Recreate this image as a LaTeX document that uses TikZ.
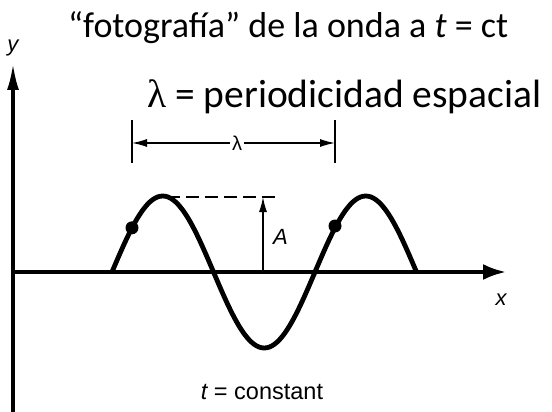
\documentclass[tikz,border=0pt]{standalone}
\usepackage{fontspec}
\setmainfont{Carlito}
\newfontfamily\lsans{Liberation Sans}
\newfontfamily\lserif{Liberation Serif}
\usetikzlibrary{arrows.meta}
\begin{document}
\begin{tikzpicture}[x=1pt,y=-1pt,
  axis/.style={line width=3.5pt},
  wave/.style={line width=4.8pt, line join=round},
  thinln/.style={line width=1.3pt},
  lab/.style={font=\lsans\itshape\fontsize{22}{22}\selectfont, inner sep=0pt},
  dot/.style={circle, fill=black, inner sep=0pt, minimum size=13pt},
  smallhead/.style={-{Latex[length=15pt,width=8pt]}}
  ]
\path[use as bounding box] (0,0) rectangle (552,412);
% texts
\node[anchor=base west, inner sep=0pt, font=\fontsize{36}{36}\selectfont] (title) at (68,38) {“fotografía” de la onda a \textit{t} = ct};
\node[anchor=base west, inner sep=0pt, font=\fontsize{39.5}{39.5}\selectfont] (lam) at (147,107) {{\lserif λ} = periodicidad espacial};
% axes
\coordinate (O) at (13,272);
\coordinate (ybot) at (13,412);
\coordinate (ytop) at (13,63);
\coordinate (xend) at (506,272);
\draw[axis, -{Latex[length=27pt,width=12pt]}] (ybot) -- (ytop);
\draw[axis, -{Latex[length=23pt,width=16pt]}] (O) -- (xend);
\node[lab] (ylab) at (13,48) {y};
\node[lab] (xlab) at (501,300) {x};
% wave
\draw[wave] plot[domain=0:1.5, samples=121, smooth] ({112+203*\x},{272-76*sin(360*\x)});
\node[dot] (d1) at (132,227.8) {};
\node[dot] (d2) at (335,226) {};
% amplitude
\coordinate (dl) at (167,197);
\coordinate (dr) at (277,197);
\draw[thinln, dash pattern=on 13pt off 6pt] (dl) -- (dr);
\coordinate (abot) at (263,272);
\coordinate (atop) at (263,197);
\draw[thinln, smallhead] (abot) -- (atop);
\node[lab, anchor=west] (A) at (273,237) {A};
% wavelength
\coordinate (tl1) at (132,120);
\coordinate (tl2) at (132,163);
\coordinate (tr1) at (335,120);
\coordinate (tr2) at (335,163);
\draw[thinln] (tl1) -- (tl2);
\draw[thinln] (tr1) -- (tr2);
\node[inner sep=2pt, font=\lsans\fontsize{20}{20}\selectfont] (lamlab) at (237,143) {λ};
\coordinate (al) at (132,143);
\coordinate (ar) at (335,143);
\draw[thinln, smallhead] (lamlab.west) -- (al);
\draw[thinln, smallhead] (lamlab.east) -- (ar);
% caption
\node[font=\lsans\fontsize{23.5}{23.5}\selectfont, inner sep=0pt] (tc) at (262,392) {{\itshape t} = constant};
\end{tikzpicture}
\end{document}
